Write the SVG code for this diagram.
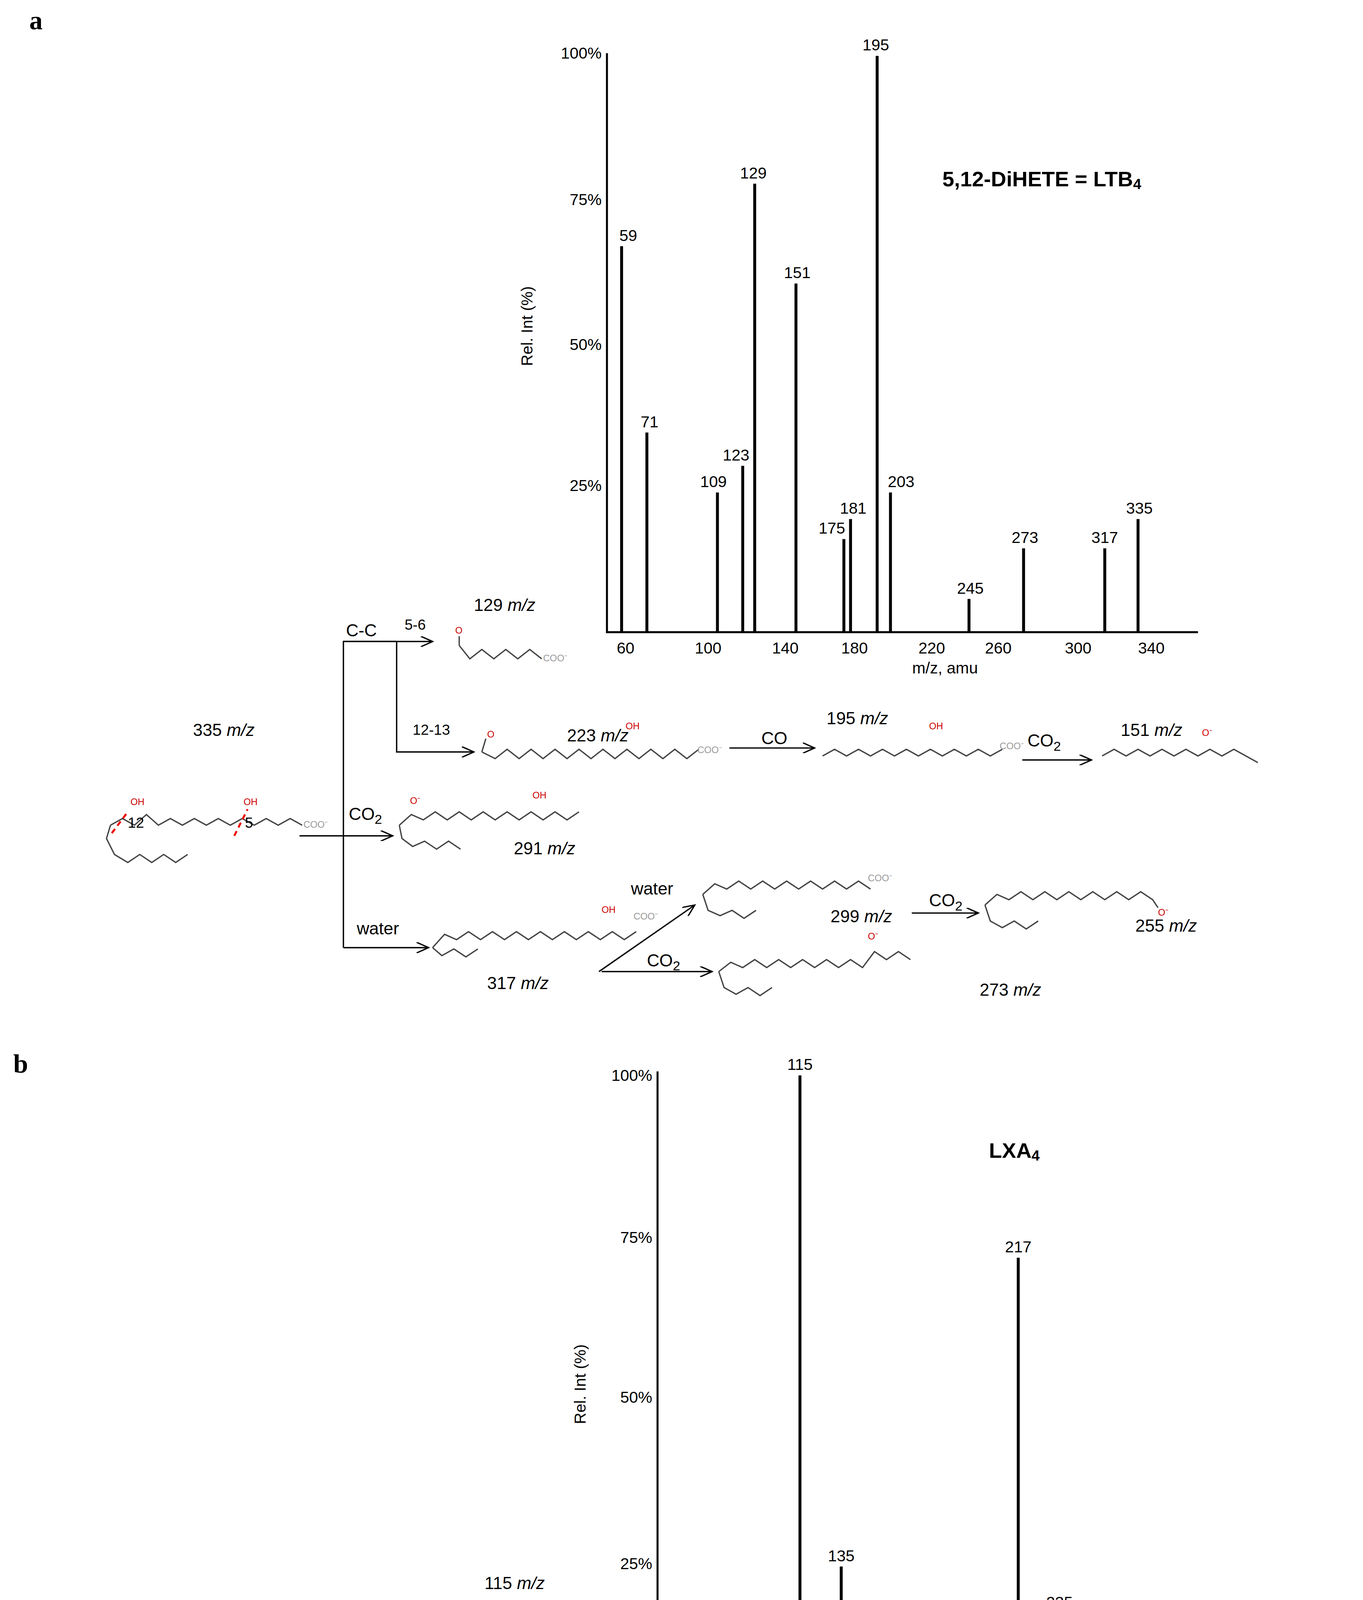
<svg xmlns="http://www.w3.org/2000/svg" width="3489" height="5370" viewBox="0 0 3489 5370">
<style>
.t{font-family:"Liberation Sans",Arial,sans-serif;font-size:13px;fill:#000}
.s{font-family:"Liberation Sans",Arial,sans-serif;font-size:11px;fill:#000}
.ax{font-family:"Liberation Sans",Arial,sans-serif;font-size:12px;fill:#000}
.pl{font-family:"Liberation Sans",Arial,sans-serif;font-size:12px;fill:#000;text-anchor:middle}
.h{font-family:"Liberation Serif",serif;font-size:20px;font-weight:bold}
.ti{font-family:"Liberation Sans",Arial,sans-serif;font-size:16px;font-weight:bold}
.r{font-family:"Liberation Sans",Arial,sans-serif;font-size:7px;fill:#c00}
.g{font-family:"Liberation Sans",Arial,sans-serif;font-size:7px;fill:#999}
.pk{stroke:#000;stroke-width:2.2}
.axl{stroke:#000;stroke-width:1.5;fill:none}
.c{stroke:#000;stroke-width:1;fill:none}
.m{stroke:#444;stroke-width:1;fill:none}
.cut{stroke:#e00;stroke-width:1.5;stroke-dasharray:4,3;fill:none}
</style>
<defs>
<marker id="ar" markerWidth="10" markerHeight="8" refX="9" refY="4" orient="auto" markerUnits="userSpaceOnUse"><path d="M0,0 L9,4 L0,8" fill="none" stroke="#000" stroke-width="1"/></marker>
</defs>
<rect width="3489" height="5370" fill="#fff"/>
<g transform="scale(3.4072)">
<text class="h" x="22" y="22">a</text>
<text class="h" x="10" y="806">b</text>

<g id="spectrumA">
<path class="axl" d="M456,40 V475 H900"/>
<text class="ax" x="452" y="44" text-anchor="end">100%</text>
<text class="ax" x="452" y="154" text-anchor="end">75%</text>
<text class="ax" x="452" y="263" text-anchor="end">50%</text>
<text class="ax" x="452" y="369" text-anchor="end">25%</text>
<text class="ax" transform="translate(400,245) rotate(-90)" text-anchor="middle">Rel. Int (%)</text>
<g class="pk">
<line x1="467" y1="475" x2="467" y2="185"/><line x1="486" y1="475" x2="486" y2="325"/>
<line x1="539" y1="475" x2="539" y2="370"/><line x1="558" y1="475" x2="558" y2="350"/>
<line x1="567" y1="475" x2="567" y2="138"/><line x1="598" y1="475" x2="598" y2="213"/>
<line x1="634" y1="475" x2="634" y2="405"/><line x1="639" y1="475" x2="639" y2="390"/>
<line x1="659" y1="475" x2="659" y2="42"/><line x1="669" y1="475" x2="669" y2="370"/>
<line x1="728" y1="475" x2="728" y2="450"/><line x1="769" y1="475" x2="769" y2="412"/>
<line x1="830" y1="475" x2="830" y2="412"/><line x1="855" y1="475" x2="855" y2="390"/>
</g>
<text class="pl" x="472" y="181">59</text><text class="pl" x="488" y="321">71</text>
<text class="pl" x="536" y="366">109</text><text class="pl" x="553" y="346">123</text>
<text class="pl" x="566" y="134">129</text><text class="pl" x="599" y="209">151</text>
<text class="pl" x="625" y="401">175</text><text class="pl" x="641" y="386">181</text>
<text class="pl" x="658" y="38">195</text><text class="pl" x="677" y="366">203</text>
<text class="pl" x="729" y="446">245</text><text class="pl" x="770" y="408">273</text>
<text class="pl" x="830" y="408">317</text><text class="pl" x="856" y="386">335</text>
<g class="pl"><text x="470" y="491">60</text><text x="532" y="491">100</text><text x="590" y="491">140</text><text x="642" y="491">180</text><text x="700" y="491">220</text><text x="750" y="491">260</text><text x="810" y="491">300</text><text x="865" y="491">340</text></g>
<text class="pl" x="710" y="506">m/z, amu</text>
<text class="ti" x="708" y="140">5,12-DiHETE  = LTB<tspan font-size="11" dy="2">4</tspan></text>
</g>

<g id="spectrumB">
<path class="axl" d="M494,805 V1300 H1005"/>
<text class="ax" x="490" y="812" text-anchor="end">100%</text>
<text class="ax" x="490" y="934" text-anchor="end">75%</text>
<text class="ax" x="490" y="1054" text-anchor="end">50%</text>
<text class="ax" x="490" y="1179" text-anchor="end">25%</text>
<text class="ax" transform="translate(440,1040) rotate(-90)" text-anchor="middle">Rel. Int (%)</text>
<g class="pk">
<line x1="509" y1="1300" x2="509" y2="1275"/><line x1="601" y1="1300" x2="601" y2="808"/>
<line x1="632" y1="1300" x2="632" y2="1177"/><line x1="719" y1="1300" x2="719" y2="1255"/>
<line x1="765" y1="1300" x2="765" y2="945"/><line x1="794" y1="1300" x2="794" y2="1212"/>
<line x1="853" y1="1300" x2="853" y2="1273"/><line x1="906" y1="1300" x2="906" y2="1270"/>
<line x1="979" y1="1300" x2="979" y2="1288"/>
</g>
<text class="pl" x="511" y="1270">59</text><text class="pl" x="601" y="804">115</text>
<text class="pl" x="632" y="1173">135</text><text class="pl" x="719" y="1251">189</text>
<text class="pl" x="765" y="941">217</text><text class="pl" x="796" y="1208">235</text>
<text class="pl" x="853" y="1269">271</text><text class="pl" x="907" y="1266">305</text>
<text class="pl" x="983" y="1284">351</text>
<g class="pl"><text x="512" y="1313">60</text><text x="575" y="1313">100</text><text x="645" y="1313">140</text><text x="712" y="1313">180</text><text x="775" y="1313">220</text><text x="838" y="1313">260</text><text x="902" y="1313">300</text><text x="965" y="1313">340</text></g>
<text class="pl" x="797" y="1328">m/z, amu</text>
<text class="ti" x="743" y="870">LXA<tspan font-size="11" dy="2">4</tspan></text>
</g>

<g id="connectors">
<path class="c" d="M298,482 H258 V712"/>
<path class="c" d="M258,482 H325" marker-end="url(#ar)"/>
<path class="c" d="M298,482 V565 H356" marker-end="url(#ar)"/>
<path class="c" d="M225,628 H295" marker-end="url(#ar)"/>
<path class="c" d="M258,712 H322" marker-end="url(#ar)"/>
<path class="c" d="M450,730 L522,680" marker-end="url(#ar)"/>
<path class="c" d="M452,730 H535" marker-end="url(#ar)"/>
<path class="c" d="M685,686 H735" marker-end="url(#ar)"/>
<path class="c" d="M548,562 H612" marker-end="url(#ar)"/>
<path class="c" d="M768,571 H820" marker-end="url(#ar)"/>

<path class="c" d="M302,1280 H258 V1510"/>
<path class="c" d="M302,1238 V1355 H358" marker-end="url(#ar)"/>
<path class="c" d="M302,1238 H345" marker-end="url(#ar)"/>
<path class="c" d="M302,1275 H345" marker-end="url(#ar)"/>
<path class="c" d="M225,1420 H295" marker-end="url(#ar)"/>
<path class="c" d="M258,1510 H322" marker-end="url(#ar)"/>
<path class="c" d="M452,1525 L530,1470" marker-end="url(#ar)"/>
<path class="c" d="M452,1527 H540" marker-end="url(#ar)"/>
<path class="c" d="M695,1482 H745" marker-end="url(#ar)"/>
<path class="c" d="M828,1485 H880" marker-end="url(#ar)"/>
<path class="c" d="M553,1357 H625" marker-end="url(#ar)"/>
<path class="c" d="M716,1360 H767" marker-end="url(#ar)"/>
</g>

<g id="labelsA">
<text class="t" x="356" y="459">129 <tspan font-style="italic">m/z</tspan></text>
<text class="t" x="260" y="478">C-C</text>
<text class="s" x="304" y="473" font-size="9">5-6</text>
<text class="s" x="310" y="552" font-size="9">12-13</text>
<text class="t" x="145" y="553">335 <tspan font-style="italic">m/z</tspan></text>
<text class="t" x="262" y="616">CO<tspan font-size="10" dy="3">2</tspan></text>
<text class="t" x="386" y="642">291 <tspan font-style="italic">m/z</tspan></text>
<text class="t" x="268" y="702">water</text>
<text class="t" x="366" y="743">317 <tspan font-style="italic">m/z</tspan></text>
<text class="t" x="474" y="672">water</text>
<text class="t" x="486" y="726">CO<tspan font-size="10" dy="3">2</tspan></text>
<text class="t" x="624" y="693">299 <tspan font-style="italic">m/z</tspan></text>
<text class="t" x="698" y="681">CO<tspan font-size="10" dy="3">2</tspan></text>
<text class="t" x="853" y="700">255 <tspan font-style="italic">m/z</tspan></text>
<text class="t" x="736" y="748">273 <tspan font-style="italic">m/z</tspan></text>
<text class="t" x="426" y="557">223 <tspan font-style="italic">m/z</tspan></text>
<text class="t" x="572" y="559">CO</text>
<text class="t" x="621" y="544">195 <tspan font-style="italic">m/z</tspan></text>
<text class="t" x="772" y="561">CO<tspan font-size="10" dy="3">2</tspan></text>
<text class="t" x="842" y="553">151 <tspan font-style="italic">m/z</tspan></text>
</g>

<g id="labelsB">
<text class="t" x="364" y="1194">115 <tspan font-style="italic">m/z</tspan></text>
<text class="t" x="262" y="1273">C-C</text>
<text class="s" x="311" y="1229" font-size="9">5-6</text>
<text class="s" x="311" y="1268" font-size="9">6-7</text>
<text class="s" x="313" y="1346" font-size="9">14-15</text>
<text class="t" x="378" y="1260">145 <tspan font-style="italic">m/z</tspan></text>
<text class="t" x="147" y="1347">351 <tspan font-style="italic">m/z</tspan></text>
<text class="t" x="263" y="1412">CO<tspan font-size="10" dy="3">2</tspan></text>
<text class="t" x="430" y="1433">305 <tspan font-style="italic">m/z</tspan></text>
<text class="t" x="272" y="1499">water</text>
<text class="t" x="370" y="1541">333 <tspan font-style="italic">m/z</tspan></text>
<text class="t" x="478" y="1469">water</text>
<text class="t" x="490" y="1523">CO<tspan font-size="10" dy="3">2</tspan></text>
<text class="t" x="632" y="1491">315 <tspan font-style="italic">m/z</tspan></text>
<text class="t" x="702" y="1476">water</text>
<text class="t" x="706" y="1501">CO<tspan font-size="10" dy="3">2</tspan></text>
<text class="t" x="790" y="1479">297 <tspan font-style="italic">m/z</tspan></text>
<text class="t" x="790" y="1511">271 <tspan font-style="italic">m/z</tspan></text>
<text class="t" x="834" y="1471">CO<tspan font-size="10" dy="3">2</tspan></text>
<text class="t" x="893" y="1488">253 <tspan font-style="italic">m/z</tspan></text>
<text class="t" x="682" y="1549">289 <tspan font-style="italic">m/z</tspan></text>
<text class="t" x="480" y="1381">253 <tspan font-style="italic">m/z</tspan></text>
<text class="t" x="563" y="1347">water</text>
<text class="t" x="636" y="1363">235 <tspan font-style="italic">m/z</tspan></text>
<text class="t" x="720" y="1348">water</text>
<text class="t" x="722" y="1376">CO<tspan font-size="10" dy="3">2</tspan></text>
<text class="t" x="776" y="1351">217 <tspan font-style="italic">m/z</tspan></text>
<text class="t" x="775" y="1376">189 <tspan font-style="italic">m/z</tspan></text>
</g>

<g id="structuresA">
<polyline class="m" points="345,485 353,495 362,488 371,495 380,488 389,495 398,488 407,495"/><line class="m" x1="345" y1="485" x2="345" y2="478"/><text class="r" x="342" y="476">O</text><text class="g" x="408" y="497">COO⁻</text>
<polyline class="m" points="362,565 372,570 381,563 390,570 399,563 408,570 417,563 426,570 435,563 444,570 453,563 462,570 471,563 480,570 489,563 498,570 507,563 516,570 525,563"/><line class="m" x1="362" y1="565" x2="365" y2="555"/><text class="r" x="366" y="554">O</text><text class="r" x="470" y="548">OH</text><text class="g" x="524" y="566">COO⁻</text>
<polyline class="m" points="618,568 627,563 636,568 645,563 654,568 663,563 672,568 681,563 690,568 699,563 708,568 717,563 726,568 735,563 744,568 753,563"/><text class="r" x="698" y="548">OH</text><text class="g" x="751" y="563">COO⁻</text>
<polyline class="m" points="828,568 837,563 846,568 855,563 864,568 873,563 882,568 891,563 900,568 909,563 918,568 927,563 936,568 945,573"/><text class="r" x="903" y="553">O⁻</text>
<polyline class="m" points="83,620 92,615 101,620 110,612 119,620 128,615 137,620 146,615 155,620 164,615 173,620 182,615 191,620 200,615 209,620 218,615 227,620"/><polyline class="m" points="83,620 80,630 86,642 96,648 105,642 114,648 123,642 132,648 141,642"/><text class="r" x="98" y="605">OH</text><text class="r" x="183" y="605">OH</text><text class="g" x="228" y="622">COO⁻</text><text class="s" x="96" y="622" font-size="10">12</text><text class="s" x="184" y="622" font-size="10">5</text>
<line class="cut" x1="84" y1="626" x2="96" y2="610"/><line class="cut" x1="176" y1="628" x2="186" y2="608"/>
<polyline class="m" points="300,620 309,612 318,616 327,610 336,616 345,610 354,616 363,610 372,616 381,610 390,616 399,610 408,616 417,610 426,616 435,610"/><polyline class="m" points="300,620 302,630 310,636 319,632 328,638 337,632 346,638"/><text class="r" x="308" y="604">O⁻</text><text class="r" x="400" y="600">OH</text>
<polyline class="m" points="325,712 334,702 343,706 352,700 361,706 370,700 379,706 388,700 397,706 406,700 415,706 424,700 433,706 442,700 451,706 460,700 469,706 478,700"/><polyline class="m" points="325,712 332,718 341,713 350,719 359,713"/><text class="r" x="452" y="686">OH</text><text class="g" x="476" y="691">COO⁻</text>
<polyline class="m" points="528,672 537,664 546,668 555,662 564,668 573,662 582,668 591,662 600,668 609,662 618,668 627,662 636,668 645,662 654,668"/><polyline class="m" points="528,672 532,684 541,688 550,684 559,690 568,684"/><text class="g" x="652" y="662">COO⁻</text>
<polyline class="m" points="740,680 749,672 758,676 767,670 776,676 785,670 794,676 803,670 812,676 821,670 830,676 839,670 848,676 857,670 866,676 870,682"/><polyline class="m" points="740,680 744,692 753,697 762,692 771,698 780,692"/><text class="r" x="870" y="688">O⁻</text>
<polyline class="m" points="540,730 549,723 558,727 567,721 576,727 585,721 594,727 603,721 612,727 621,721 630,727 639,721 648,727 657,715 666,721 675,715 684,721"/><polyline class="m" points="540,730 544,742 553,747 562,742 571,748 580,742"/><text class="r" x="652" y="706">O⁻</text>
</g>

<g id="structuresB">
<polyline class="m" points="347,1215 354,1225 363,1218 372,1225 381,1218 390,1225 399,1218 408,1225 417,1218 426,1225"/><text class="r" x="346" y="1214">H</text><text class="r" x="360" y="1238">O</text><text class="g" x="424" y="1228">COO⁻</text>
<polyline class="m" points="350,1283 358,1275 367,1282 376,1275 385,1282 394,1275 403,1282 412,1275 421,1282 430,1285"/><text class="r" x="352" y="1272">O</text><text class="r" x="344" y="1292">H</text><text class="r" x="370" y="1305">OH</text><text class="g" x="430" y="1294">COO⁻</text>
<polyline class="m" points="368,1345 377,1340 386,1345 395,1340 404,1345 413,1340 422,1345 431,1332 440,1338 449,1332 458,1338 467,1332 476,1338 485,1332 494,1338 503,1332 512,1338 521,1332 530,1338"/><polyline class="m" points="368,1345 372,1356 381,1360 390,1356 399,1362"/><text class="r" x="436" y="1328">OH</text><text class="r" x="452" y="1367">OH</text><text class="g" x="528" y="1340">COO⁻</text>
<polyline class="m" points="90,1395 99,1388 108,1392 117,1386 126,1392 135,1386 144,1392 153,1386 162,1392 171,1386 180,1392 189,1386 198,1392 207,1386 216,1392 225,1396 234,1392"/><polyline class="m" points="90,1395 92,1410 100,1418 109,1412 118,1420 127,1414 136,1420 145,1414 154,1420 163,1414"/><line class="m" x1="127" y1="1414" x2="130" y2="1428"/><text class="r" x="125" y="1438">OH</text><text class="r" x="150" y="1375">OH</text><text class="r" x="175" y="1412">OH</text><text class="g" x="232" y="1398">COO⁻</text><text class="s" x="172" y="1391" font-size="10">5</text><text class="s" x="122" y="1410" font-size="10">15</text>
<line class="cut" x1="148" y1="1400" x2="158" y2="1378"/><line class="cut" x1="158" y1="1402" x2="168" y2="1380"/><line class="cut" x1="112" y1="1424" x2="122" y2="1404"/>
<polyline class="m" points="300,1410 309,1403 318,1407 327,1401 336,1407 345,1401 354,1407 363,1401 372,1407 381,1401 390,1407 399,1401 408,1407 417,1401"/><polyline class="m" points="300,1410 304,1424 313,1430 322,1424 331,1430 340,1424 349,1430 358,1436"/><text class="r" x="368" y="1390">OH</text><text class="r" x="368" y="1420">OH</text><text class="r" x="338" y="1445">O⁻</text>
<polyline class="m" points="326,1492 335,1485 344,1489 353,1483 362,1489 371,1483 380,1489 389,1483 398,1489 407,1483 416,1489 425,1483 434,1489 443,1483 452,1489 461,1495"/><polyline class="m" points="326,1492 330,1504 339,1510 348,1504 357,1510 366,1504 375,1510"/><text class="r" x="390" y="1472">OH</text><text class="r" x="378" y="1510">OH</text><text class="g" x="458" y="1498">COO⁻</text>
<polyline class="m" points="536,1462 545,1455 554,1459 563,1453 572,1459 581,1453 590,1459 599,1453 608,1459 617,1453 626,1459 635,1453 644,1459 653,1465"/><polyline class="m" points="536,1462 540,1474 549,1478 558,1474 567,1480 576,1474 585,1480"/><text class="r" x="590" y="1490">OH</text><text class="g" x="650" y="1468">COO⁻</text>
<polyline class="m" points="548,1525 557,1518 566,1522 575,1516 584,1522 593,1516 602,1522 611,1516 620,1518 629,1512 638,1518 647,1512 656,1518 665,1512"/><polyline class="m" points="548,1525 552,1537 561,1541 570,1537 579,1543 588,1537 597,1543 606,1537 615,1543 624,1537"/><text class="r" x="616" y="1508">O⁻</text><text class="r" x="611" y="1535">OH</text>
</g>
</g>
</svg>
